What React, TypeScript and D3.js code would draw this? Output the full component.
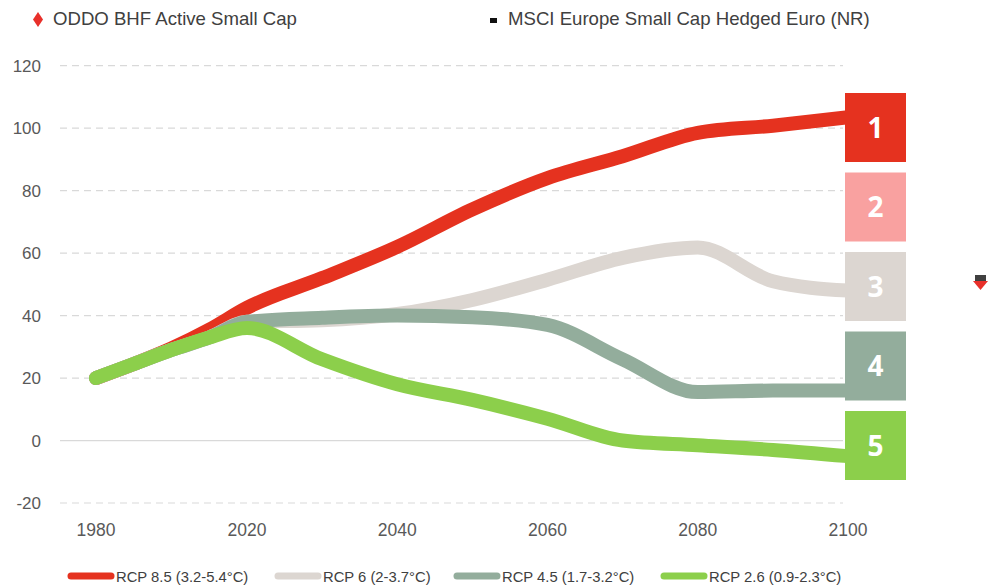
import * as d3 from "d3";

const years = [1980, 1990, 2000, 2010, 2020, 2030, 2040, 2050, 2060, 2070, 2080, 2090, 2100];
const rcp85 = [20, 24.5, 29.5, 35.5, 42.5, 52, 62, 74, 84, 91, 98.5, 100.8, 103.5];
const rcp6 = [20, 24.5, 29, 33, 38, 38.5, 40.5, 45, 51.5, 58.5, 61.8, 51, 48];
const rcp45 = [20, 24.5, 29, 33, 38, 39.3, 40, 39.5, 37, 26, 15.5, 16, 16];
const rcp26 = [20, 24.5, 29, 33, 36, 26, 18, 13, 7, 0, -1.5, -3, -5];

const xTicks = [1980, 2020, 2040, 2060, 2080, 2100];
const yTicks = [-20, 0, 20, 40, 60, 80, 100, 120];

const seriesNames = ["RCP 8.5 (3.2-5.4°C)", "RCP 6 (2-3.7°C)", "RCP 4.5 (1.7-3.2°C)", "RCP 2.6 (0.9-2.3°C)"];
const seriesColors = ["#E5321F", "#DCD6D1", "#93AD9C", "#8CCF4B"];
const boxLabels = ["1", "2", "3", "4", "5"];
const boxColors = ["#E5321F", "#F9A1A0", "#DCD6D1", "#93AD9C", "#8CCF4B"];

const topLegend = ["ODDO BHF Active Small Cap", "MSCI Europe Small Cap Hedged Euro (NR)"];

const W = 988;
const H = 588;

export default function App() {
  const series = [rcp85, rcp6, rcp45, rcp26];

  // category-like axis: 1980→2020 takes the same room as 20 years later on
  const x = d3.scaleLinear().domain([1980, 2020, 2100]).range([96, 247, 848]);
  const y = d3.scaleLinear().domain([-20, 120]).range([503, 65.7]);

  const line = d3
    .line<number>()
    .x((_, i) => x(years[i]))
    .y((d) => y(d))
    .curve(d3.curveMonotoneX);

  const boxX = 845;
  const boxW = 61;
  const boxH = 69;
  const boxTop = 93;
  const boxStep = 79.5;

  return (
    <svg width={W} height={H} style={{ position: "absolute", left: 0, top: 0, background: "#fff" }}>
      {/* top legend */}
      <path d="M38,12 L43,19.5 L38,27 L33,19.5 Z" fill="#E8302A" />
      <text x={53} y={24.5} fontFamily="Liberation Sans, Arial" fontSize={18.6} fill="#404040">
        {topLegend[0]}
      </text>
      <rect x={490} y={18} width={7} height={5} fill="#111" />
      <text x={508} y={24.5} fontFamily="Liberation Sans, Arial" fontSize={18.6} fill="#404040">
        {topLegend[1]}
      </text>

      {/* grid */}
      {yTicks.map((t) => (
        <g key={t}>
          <line
            x1={60}
            x2={843}
            y1={y(t)}
            y2={y(t)}
            stroke="#D9D9D9"
            strokeWidth={1.2}
            strokeDasharray={t === 0 ? undefined : "7 5"}
          />
          <text
            x={41}
            y={y(t)}
            dy="0.36em"
            textAnchor="end"
            fontFamily="Liberation Sans, Arial"
            fontSize={17}
            fill="#595959"
          >
            {t}
          </text>
        </g>
      ))}

      {xTicks.map((t) => (
        <text
          key={t}
          x={x(t)}
          y={536}
          textAnchor="middle"
          fontFamily="Liberation Sans, Arial"
          fontSize={17.5}
          fill="#595959"
        >
          {t}
        </text>
      ))}

      {/* lines */}
      {series.map((s, i) => (
        <path
          key={i}
          d={line(s) || ""}
          fill="none"
          stroke={seriesColors[i]}
          strokeWidth={14}
          strokeLinecap="round"
          strokeLinejoin="round"
        />
      ))}

      {/* numbered boxes */}
      {boxLabels.map((b, i) => (
        <g key={b}>
          <rect x={boxX} y={boxTop + i * boxStep} width={boxW} height={boxH} fill={boxColors[i]} />
          <text
            x={boxX + boxW / 2}
            y={boxTop + i * boxStep + boxH / 2}
            dy="0.36em"
            textAnchor="middle"
            fontFamily="Open Sans, Liberation Sans, Arial"
            fontWeight="bold"
            fontSize={28}
            fill="#fff"
          >
            {b}
          </text>
        </g>
      ))}

      {/* stray marker on the right */}
      <rect x={975} y={275} width={11} height={6} fill="#404040" />
      <path d="M973,281 L988,281 L980.5,290 Z" fill="#E8302A" />

      {/* bottom legend */}
      {seriesNames.map((n, i) => {
        const lx = [68, 275, 454, 661][i];
        return (
          <g key={n}>
            <line
              x1={lx + 3}
              x2={lx + 43}
              y1={576}
              y2={576}
              stroke={seriesColors[i]}
              strokeWidth={7}
              strokeLinecap="round"
            />
            <text
              x={lx + 48}
              y={581.5}
              fontFamily="Liberation Sans, Arial"
              fontSize={14.8}
              fill="#404040"
            >
              {n}
            </text>
          </g>
        );
      })}
    </svg>
  );
}
